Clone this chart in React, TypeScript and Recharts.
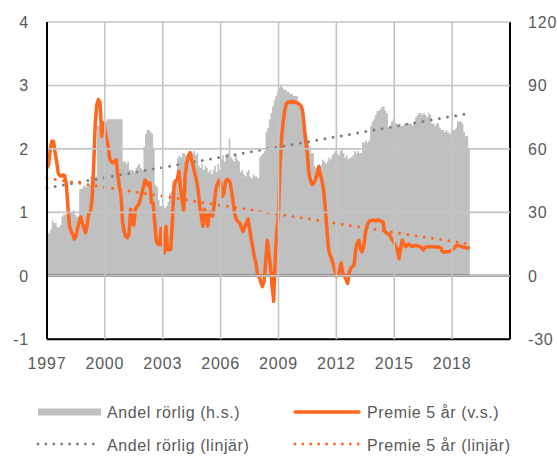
import React from "react";
import {
  Area,
  ComposedChart,
  Line,
  ReferenceLine,
  XAxis,
  YAxis,
} from "recharts";

const startYear = 1997;
const xTicks = [1997, 2000, 2003, 2006, 2009, 2012, 2015, 2018];
const leftTicks = [-1, 0, 1, 2, 3, 4];
const rightTicks = [-30, 0, 30, 60, 90, 120];

// Andel rörlig ränta, procent (h.s.), månadsvis 1997-01 .. 2018-12
const andelRorlig = [
  21, 20, 22, 26, 25, 25, 23, 23, 24, 28, 29, 29,
  29, 30, 30, 30, 31, 29, 28, 28, 41, 41, 42, 43,
  42, 43, 43, 47, 47, 47, 47, 71, 71, 73, 73, 73,
  73, 74, 74, 74, 74, 74, 74, 74, 74, 74, 74, 54,
  54, 53, 54, 50, 50, 50, 49, 51, 52, 53, 51, 50,
  61, 67, 69, 69, 68, 67, 60, 43, 42, 36, 33, 33,
  33, 32, 33, 35, 39, 40, 45, 45, 46, 56, 57, 56,
  58, 58, 57, 58, 59, 58, 58, 59, 57, 58, 52, 51,
  53, 50, 52, 51, 49, 50, 48, 50, 52, 49, 53, 50,
  55, 57, 54, 56, 58, 65, 56, 55, 54, 57, 55, 54,
  49, 50, 48, 47, 49, 50, 47, 46, 48, 47, 47, 46,
  56, 57, 58, 59, 68, 70, 74, 77, 80, 83, 85, 87,
  89, 90, 89, 88, 88, 87, 87, 86, 86, 85, 85, 85,
  82, 80, 77, 74, 71, 67, 64, 61, 58, 58, 52, 51,
  52, 53, 52, 55, 54, 53, 54, 56, 55, 57, 58, 59,
  58, 57, 59, 60, 58, 56, 57, 55, 56, 56, 57, 59,
  58, 59, 58, 58, 63, 63, 64, 63, 64, 71, 73, 74,
  76, 78, 78, 79, 80, 80, 78, 77, 70, 70, 73, 74,
  72, 72, 71, 72, 71, 71, 72, 71, 72, 72, 72, 71,
  73, 75, 76, 77, 77, 76, 77, 76, 75, 77, 76, 72,
  72, 71, 72, 72, 70, 69, 69, 68, 69, 68, 67, 68,
  69, 69, 70, 73, 73, 73, 72, 68, 66, 66, 60, 60,
];

// Premie 5 år, procentenheter (v.s.), månadsvis 1997-01 .. 2018-12
const premie5 = [
  1.7, 1.75, 2.0, 2.12, 2.12, 1.95, 1.8, 1.62, 1.58, 1.57, 1.59, 1.58,
  1.45, 1.09, 0.78, 0.7, 0.65, 0.58, 0.62, 0.75, 0.85, 0.93, 0.83, 0.75,
  0.68, 0.8, 0.99, 1.0, 1.2, 1.7, 2.4, 2.7, 2.78, 2.73, 2.2, 2.41,
  2.3, 2.17, 2.05, 1.85, 1.8, 1.78, 1.8, 1.83, 1.6, 1.4, 1.28, 0.85,
  0.7, 0.62, 0.6, 0.65, 1.05, 0.85, 0.8, 1.05, 1.1, 1.12, 1.2, 1.3,
  1.4, 1.51, 1.48, 1.42, 1.46, 1.15, 1.15, 0.85, 0.55, 0.5, 0.49, 0.75,
  0.52, 0.36, 0.78, 0.41, 0.41, 0.42, 0.88, 1.4, 1.5, 1.51, 1.65, 1.4,
  1.2, 1.02, 1.6, 1.78, 1.88, 1.94, 1.82, 1.72, 1.6, 1.5, 1.35, 1.1,
  0.94, 0.78, 1.05, 0.95, 0.78, 1.0, 0.98, 0.94, 1.12, 1.36, 1.45, 1.51,
  1.47, 1.25, 1.3, 1.48, 1.52, 1.51, 1.46, 1.3, 1.12, 0.95, 0.88, 0.85,
  0.83, 0.75, 0.7, 0.78, 0.83, 0.9, 0.75, 0.58, 0.45, 0.3, 0.2, 0.0,
  -0.01, -0.1, -0.17, -0.08, 0.2, 0.56, 0.38, 0.15, -0.17, -0.4, 0.3, 0.7,
  0.99, 1.78, 2.2, 2.45, 2.62, 2.72, 2.74, 2.73, 2.75, 2.73, 2.74, 2.73,
  2.72, 2.7, 2.68, 2.6, 2.35, 2.1, 1.9, 1.6, 1.5, 1.44, 1.46, 1.52,
  1.6, 1.72, 1.6, 1.5, 1.36, 1.1, 0.78, 0.45, 0.33, 0.28, 0.18, 0.08,
  -0.01, 0.02, 0.1, 0.2, 0.04, 0.0, -0.06, -0.12, 0.05, 0.12, 0.15, 0.17,
  0.4, 0.52, 0.56, 0.42, 0.38, 0.46, 0.67, 0.78, 0.85, 0.87, 0.87, 0.88,
  0.87, 0.87, 0.88, 0.87, 0.86, 0.85, 0.7, 0.68, 0.66, 0.65, 0.6, 0.56,
  0.52, 0.46, 0.4, 0.27, 0.45, 0.56, 0.5, 0.46, 0.48, 0.5, 0.48, 0.46,
  0.47, 0.48, 0.48, 0.47, 0.46, 0.44, 0.41, 0.44, 0.46, 0.46, 0.46, 0.46,
  0.46, 0.46, 0.45, 0.46, 0.45, 0.44, 0.38, 0.37, 0.38, 0.38, 0.38, 0.39,
  0.41, 0.43, 0.46, 0.48, 0.48, 0.47, 0.46, 0.45, 0.45, 0.44, 0.44, 0.43,
];

// linjära trender, start- och slutvärde
const andelTrend = [41.6, 76.9];
const premieTrend = [1.54, 0.5];

const last = andelRorlig.length - 1;
const chartData = andelRorlig.map((andel, i) => ({
  t: startYear + i / 12,
  andel,
  premie: premie5[i],
  andelLin: i === 0 ? andelTrend[0] : i === last ? andelTrend[1] : null,
  premieLin: i === 0 ? premieTrend[0] : i === last ? premieTrend[1] : null,
}));

const FONT = "'Liberation Sans', Arial, sans-serif";
const TEXT = "#595959";
const GRAY = "#c0c0c0";
const GRID = "#c4c4c4";
const ORANGE = "#ff671f";
const DOTGRAY = "#808080";

const W = 557;
const H = 456;
const MARGIN = { top: 22, right: 0, bottom: 76.7, left: 0 };
const AXIS_W = 47;
const XAXIS_H = 40;
const PLOT_W = W - 2 * AXIS_W;
const PLOT_H = H - MARGIN.top - MARGIN.bottom - XAXIS_H;

const tickStyle = { fill: TEXT, fontSize: 16, fontFamily: FONT, letterSpacing: 0.8 };
const gridLine = { stroke: GRID, strokeWidth: 1.6 };
const frameLine = { stroke: "#000", strokeWidth: 2 };

const Legend = () => (
  <svg
    width={W}
    height={60}
    style={{ position: "absolute", left: 0, top: 396, fontFamily: FONT }}
  >
    <rect x={38} y={12.5} width={63} height={7} fill={GRAY} />
    <text x={107} y={16} dy="0.35em" fontSize={16} fill={TEXT} letterSpacing={0.6}>
      Andel rörlig (h.s.)
    </text>
    <line x1={295} x2={359} y1={16} y2={16} stroke={ORANGE} strokeWidth={3.5} strokeLinecap="round" />
    <text x={367} y={16} dy="0.35em" fontSize={16} fill={TEXT} letterSpacing={0.6}>
      Premie 5 år (v.s.)
    </text>
    <line x1={38} x2={101} y1={48} y2={48} stroke={DOTGRAY} strokeWidth={2.8} strokeDasharray="0 7.9" strokeLinecap="round" />
    <text x={107} y={49} dy="0.35em" fontSize={16} fill={TEXT} letterSpacing={0.6}>
      Andel rörlig (linjär)
    </text>
    <line x1={295} x2={359} y1={48} y2={48} stroke={ORANGE} strokeWidth={2.8} strokeDasharray="0 7.9" strokeLinecap="round" />
    <text x={367} y={49} dy="0.35em" fontSize={16} fill={TEXT} letterSpacing={0.6}>
      Premie 5 år (linjär)
    </text>
  </svg>
);

export default function App() {
  return (
    <div style={{ position: "absolute", left: 0, top: 0, width: W, height: H, background: "#fff" }}>
      <ComposedChart width={W} height={H} data={chartData} margin={MARGIN}>
        {/* höger axel: tick-linjerna dras tvärs över ytan och blir horisontellt rutnät */}
        <YAxis
          yAxisId="right"
          orientation="right"
          domain={[-30, 120]}
          ticks={rightTicks}
          width={AXIS_W}
          axisLine={frameLine}
          tickLine={gridLine}
          tickSize={-PLOT_W}
          tickMargin={PLOT_W + 18}
          tick={{ ...tickStyle, textAnchor: "start" }}
        />
        {/* x-axeln: tick-linjerna uppåt blir vertikalt rutnät */}
        <XAxis
          dataKey="t"
          type="number"
          domain={[1997, 2021]}
          ticks={xTicks}
          tickFormatter={(v) => String(Math.round(v))}
          axisLine={frameLine}
          tickLine={gridLine}
          tickSize={-PLOT_H}
          tickMargin={PLOT_H + 18}
          height={XAXIS_H}
          tick={tickStyle}
        />
        <YAxis
          domain={[-1, 4]}
          ticks={leftTicks}
          width={AXIS_W}
          axisLine={frameLine}
          tickLine={false}
          tickSize={0}
          tickMargin={18}
          tick={tickStyle}
        />
        {/* övre ramlinje */}
        <XAxis
          xAxisId="top"
          orientation="top"
          dataKey="t"
          type="number"
          domain={[1997, 2021]}
          height={0}
          axisLine={frameLine}
          tick={false}
          tickLine={false}
        />
        <Area
          yAxisId="right"
          type="stepAfter"
          dataKey="andel"
          stroke="none"
          fill={GRAY}
          fillOpacity={1}
          isAnimationActive={false}
        />
        <ReferenceLine y={0} stroke="#000" strokeWidth={2} />
        <Line
          yAxisId="right"
          dataKey="andelLin"
          stroke={DOTGRAY}
          strokeWidth={3}
          strokeDasharray="0 8.3"
          strokeLinecap="round"
          dot={false}
          connectNulls
          isAnimationActive={false}
        />
        <Line
          dataKey="premieLin"
          stroke={ORANGE}
          strokeWidth={3}
          strokeDasharray="0 8.3"
          strokeLinecap="round"
          dot={false}
          connectNulls
          isAnimationActive={false}
        />
        <Line
          dataKey="premie"
          stroke={ORANGE}
          strokeWidth={3.5}
          strokeLinejoin="round"
          dot={false}
          isAnimationActive={false}
        />
      </ComposedChart>
      <Legend />
    </div>
  );
}
